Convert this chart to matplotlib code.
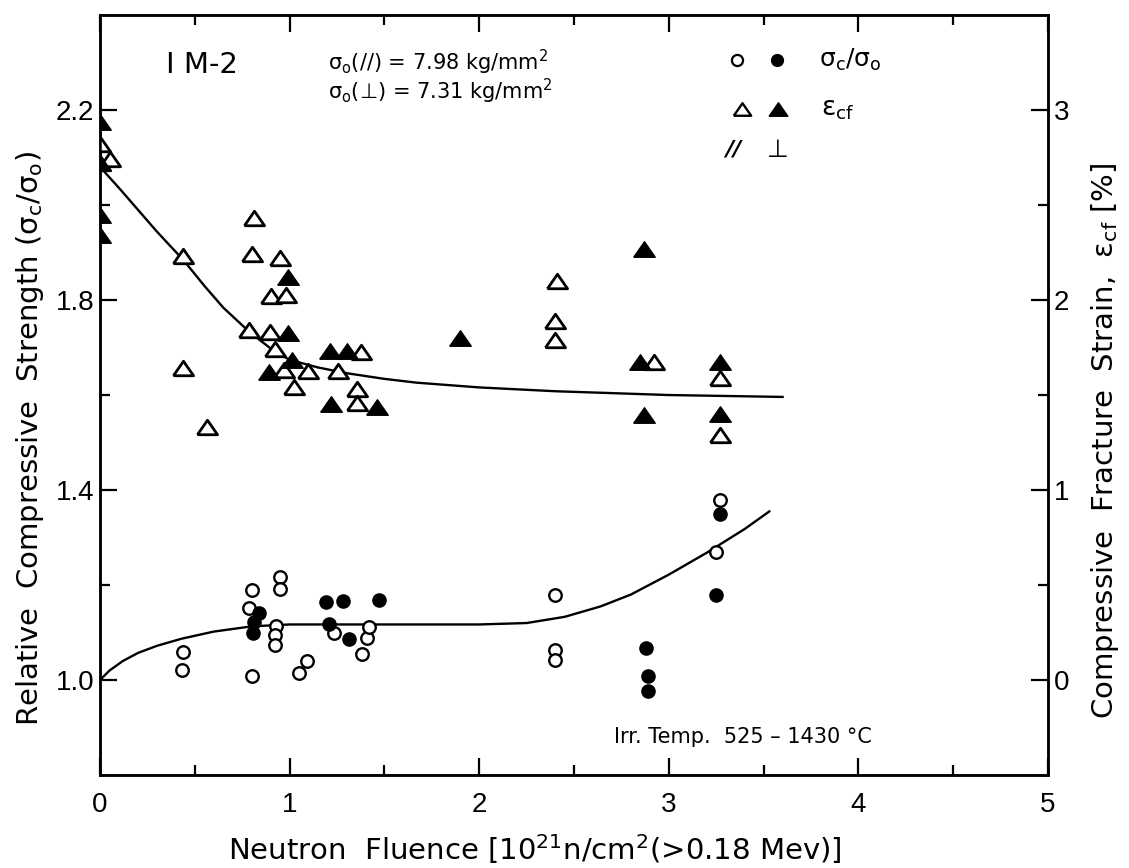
import matplotlib
matplotlib.use("Agg")
import matplotlib.pyplot as plt
import numpy as np

plt.rcParams['font.family'] = ['Liberation Sans', 'DejaVu Sans']
plt.rcParams['mathtext.default'] = 'regular'

# relative compressive strength sigma_c/sigma_o (left axis)
circ_par_x = [0.44, 0.43, 0.80, 0.785, 0.80, 0.95, 0.95, 0.93, 0.925, 0.925,
              1.05, 1.09, 1.235, 1.41, 1.42, 1.38, 2.40, 2.40, 2.40, 3.27, 3.25]
circ_par_y = [1.059, 1.022, 1.19, 1.152, 1.009, 1.216, 1.192, 1.113, 1.094, 1.073,
              1.014, 1.040, 1.099, 1.088, 1.112, 1.054, 1.179, 1.064, 1.043, 1.38, 1.27]
circ_perp_x = [0.84, 0.81, 0.805, 1.19, 1.28, 1.47, 1.205, 1.315, 2.88, 2.89, 2.89, 3.27, 3.25]
circ_perp_y = [1.142, 1.122, 1.098, 1.164, 1.166, 1.168, 1.117, 1.086, 1.068, 1.008, 0.976,
               1.35, 1.18]

# compressive fracture strain eps_cf [%] (right axis)
tri_par_x = [0.0, 0.0, 0.055, 0.44, 0.813, 0.804, 0.95, 0.90, 0.982, 0.788, 0.898, 0.924,
             0.44, 0.968, 1.095, 1.025, 1.378, 1.253, 1.355, 1.355, 0.563, 2.41, 2.40, 2.40,
             2.92, 3.27, 3.27]
tri_par_y = [2.82, 2.72, 2.74, 2.23, 2.43, 2.24, 2.22, 2.02, 2.025, 1.84, 1.83, 1.74,
             1.64, 1.63, 1.625, 1.54, 1.725, 1.625, 1.53, 1.46, 1.33, 2.10, 1.89, 1.79,
             1.675, 1.59, 1.29]
tri_perp_x = [0.0, 0.0, 0.0, 0.0, 0.994, 0.989, 1.012, 0.889, 1.214, 1.30, 1.217, 1.46,
              1.90, 2.87, 2.85, 2.87, 3.27, 3.27]
tri_perp_y = [2.935, 2.72, 2.45, 2.34, 2.12, 1.825, 1.685, 1.62, 1.73, 1.73, 1.455, 1.435,
              1.80, 2.27, 1.675, 1.395, 1.675, 1.40]

# hand drawn trend lines
fit_sig_x = [0.0, 0.05, 0.12, 0.2, 0.3, 0.43, 0.6, 0.8, 1.0, 1.5, 2.0, 2.25, 2.45, 2.64,
             2.8, 3.0, 3.2, 3.4, 3.53]
fit_sig_y = [1.0, 1.02, 1.04, 1.057, 1.072, 1.087, 1.102, 1.113, 1.117, 1.117, 1.117, 1.12,
             1.133, 1.155, 1.18, 1.222, 1.268, 1.318, 1.355]
fit_eps_x = [0.0, 0.1, 0.2, 0.3, 0.44, 0.55, 0.65, 0.79, 0.9, 1.0, 1.15, 1.3, 1.5, 1.67,
             2.0, 2.4, 3.0, 3.6]
fit_eps_y = [2.70, 2.59, 2.475, 2.36, 2.21, 2.075, 1.96, 1.83, 1.745, 1.685, 1.645, 1.615,
             1.585, 1.565, 1.54, 1.52, 1.50, 1.49]

# wide, flat triangle as drawn in the original
tri = [(-1.0, -0.72), (1.0, -0.72), (0.0, 0.72), (-1.0, -0.72)]

fig = plt.figure(figsize=(11.29, 8.68), dpi=100)
ax = fig.add_axes([0.0886, 0.1071, 0.8397, 0.8756])
ax2 = ax.twinx()

ax.plot(fit_sig_x, fit_sig_y, '-', color='black', lw=1.7)
ax2.plot(fit_eps_x, fit_eps_y, '-', color='black', lw=1.7)

ax.plot(circ_par_x, circ_par_y, 'o', ms=9, mfc='white', mec='black', mew=1.7, ls='none')
ax.plot(circ_perp_x, circ_perp_y, 'o', ms=9.5, mfc='black', mec='black', ls='none')
ax2.plot(tri_par_x, tri_par_y, marker=tri, ms=14.5, mfc='white', mec='black', mew=2.0, ls='none')
ax2.plot(tri_perp_x, tri_perp_y, marker=tri, ms=15.5, mfc='black', mec='black', ls='none')

ax.set_xlim(0, 5)
ax.set_ylim(0.8, 2.4)
ax2.set_ylim(-0.5, 3.5)

ax.set_xticks([0, 1, 2, 3, 4, 5])
ax.set_xticks([0.5, 1.5, 2.5, 3.5, 4.5], minor=True)
ax.set_yticks([1.0, 1.4, 1.8, 2.2])
ax.set_yticklabels(['1.0', '1.4', '1.8', '2.2'])
ax.set_yticks([1.2, 1.6, 2.0], minor=True)
ax2.set_yticks([0, 1, 2, 3])
ax2.set_yticks([0.5, 1.5, 2.5], minor=True)

ax.tick_params(axis='x', which='both', direction='in', top=True, labelsize=20, pad=12)
ax.tick_params(axis='y', which='both', direction='in', right=False, labelsize=20, pad=4)
ax2.tick_params(axis='y', which='both', direction='in', labelsize=20, pad=4)
for a in (ax, ax2):
    a.tick_params(which='major', length=12, width=1.6)
    a.tick_params(which='minor', length=7, width=1.6)
    for s in a.spines.values():
        s.set_linewidth(1.8)

lab = ['DejaVu Sans']
fig.text(0.027, 0.495, 'Relative  Compressive  Strength ($\\sigma_c/\\sigma_o$)',
         rotation=90, ha='center', va='center', fontsize=21, family=lab)
fig.text(0.979, 0.492, 'Compressive  Fracture  Strain,  $\\varepsilon_{cf}$ [%]',
         rotation=90, ha='center', va='center', fontsize=21, family=lab)
fig.text(0.474, 0.022, 'Neutron  Fluence [$10^{21}$n/cm$^2$(>0.18 Mev)]',
         ha='center', va='center', fontsize=21, family=lab)

ax.text(0.35, 2.295, 'I M-2', fontsize=21, va='center', ha='left', family=lab)
ax.text(1.2, 2.30, '$\\sigma_o$(//) = 7.98 kg/mm$^2$', fontsize=15, va='center', family=lab)
ax.text(1.2, 2.24, '$\\sigma_o$(\u22a5) = 7.31 kg/mm$^2$', fontsize=15, va='center', family=lab)
ax.text(2.71, 0.88, 'Irr. Temp.  525 \u2013 1430 \u00b0C', fontsize=15, va='center', family=lab)

# key
ax.plot([3.36], [2.306], 'o', ms=8, mfc='white', mec='black', mew=1.6)
ax.plot([3.57], [2.306], 'o', ms=8.5, mfc='black', mec='black')
ax.text(3.79, 2.306, '$\\sigma_c/\\sigma_o$', fontsize=18, va='center', family=lab)
ax.plot([3.385], [2.203], marker=tri, ms=12.5, mfc='white', mec='black', mew=1.7)
ax.plot([3.577], [2.203], marker=tri, ms=13.5, mfc='black', mec='black')
ax.text(3.80, 2.203, '$\\varepsilon_{cf}$', fontsize=19, va='center', family=lab)
ax.text(3.34, 2.116, '//', fontsize=16, va='center', ha='center', style='italic',
        fontweight='bold', family=lab)
ax.text(3.577, 2.116, '\u22a5', fontsize=18, va='center', ha='center', family=lab)

fig.savefig('out.png', dpi=100)
